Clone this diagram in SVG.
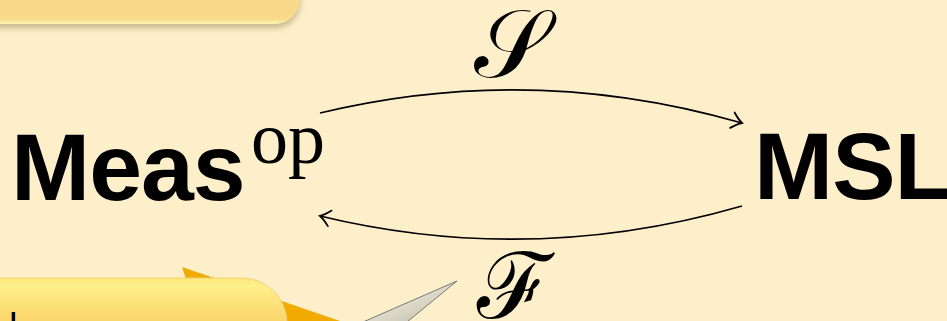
<svg xmlns="http://www.w3.org/2000/svg" width="947" height="321" viewBox="0 0 947 321">
<defs>
<linearGradient id="gTop" x1="0" y1="0" x2="0" y2="1">
<stop offset="0" stop-color="#F7D888"/>
<stop offset="0.85" stop-color="#F8DA8A"/>
<stop offset="1" stop-color="#FEF4B4"/>
</linearGradient>
<linearGradient id="gBot" x1="0" y1="0" x2="0" y2="1">
<stop offset="0" stop-color="#FEE97A"/>
<stop offset="0.15" stop-color="#FFF08C"/>
<stop offset="1" stop-color="#F9CE62"/>
</linearGradient>
<linearGradient id="gGray" x1="0" y1="0" x2="1" y2="1">
<stop offset="0" stop-color="#FFFFF4"/>
<stop offset="1" stop-color="#BDB8A2"/>
</linearGradient>
<filter id="shadow" x="-10%" y="-50%" width="120%" height="200%">
<feGaussianBlur stdDeviation="3"/>
</filter>
<marker id="arrow" markerUnits="userSpaceOnUse" markerWidth="24" markerHeight="24" refX="12" refY="12" orient="auto">
<path d="M2,4 Q8,10 12,12 Q8,14 2,20" fill="none" stroke="#000" stroke-width="1.8" stroke-linecap="round"/>
</marker>
<style>
.big{font-family:"Liberation Sans",Arial,sans-serif;font-weight:bold;font-size:95px;fill:#000}
.sup{font-family:"Liberation Serif","Times New Roman",serif;font-size:74px;fill:#000}
.cal{font-family:"DejaVu Serif","Liberation Serif",serif;fill:#000}
.conn{fill:none;stroke:#000;stroke-width:1.8;marker-end:url(#arrow)}
</style>
</defs>
<rect width="947" height="321" fill="#FEEFCB"/>
<g id="callout-top">
<path d="M-10,-10 H300 V2 A25,25 0 0 1 275,28 H-10 Z" fill="#9A8A60" opacity="0.55" filter="url(#shadow)"/>
<path d="M-10,-10 H300 V-1 A25,25 0 0 1 275,24 H-10 Z" fill="url(#gTop)"/>
</g>
<g id="callout-bottom">
<polygon points="182,267 340,321 200,321" fill="#F0AA00"/>
<path d="M-10,278 H242 A45,45 0 0 1 287,323 V330 H-10 Z" fill="url(#gBot)" stroke="#F2D07A" stroke-width="1"/>
<text x="10" y="330" font-family="Liberation Sans, Arial, sans-serif" font-size="24" font-weight="bold">l</text>
</g>
<g id="callout-gray">
<polygon points="457,281 363,322 407,322" fill="url(#gGray)" stroke="#777" stroke-width="1"/>
</g>
<g id="node-meas">
<text class="big" x="11" y="200" letter-spacing="-1">Meas</text>
<text class="sup" x="251" y="163">op</text>
</g>
<g id="node-msl">
<text class="big" x="754" y="199" letter-spacing="-1">MSL</text>
</g>
<g id="connectors">
<path class="conn" d="M320,113 Q531,62 742,123"/>
<path class="conn" d="M742,206 Q531,267 320,216"/>
</g>
<g id="labels">
<text class="cal" x="511" y="77" font-size="96" text-anchor="middle">𝒮</text>
<text class="cal" x="515" y="318" font-size="92" text-anchor="middle">ℱ</text>
</g>
</svg>
